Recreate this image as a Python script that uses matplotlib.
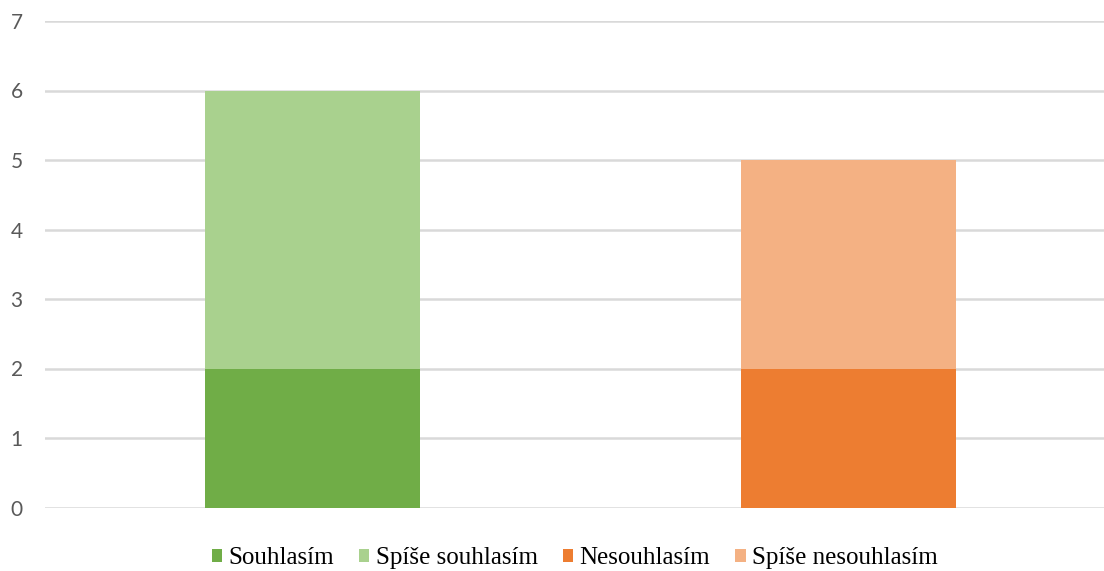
import matplotlib
matplotlib.use("Agg")
import matplotlib.pyplot as plt
from matplotlib.patches import Patch

# Survey answers, two stacked columns
positions = [0, 1]
series_names = ["Souhlasím", "Spíše souhlasím", "Nesouhlasím", "Spíše nesouhlasím"]
souhlasim = [2, 0]
spise_souhlasim = [4, 0]
nesouhlasim = [0, 2]
spise_nesouhlasim = [0, 3]
y_ticks = [0, 1, 2, 3, 4, 5, 6, 7]

colors = ["#70AD47", "#A9D18E", "#ED7D31", "#F4B183"]

W, H = 1104, 571
fig = plt.figure(figsize=(W / 100, H / 100), dpi=100)
ax = fig.add_axes([45 / W, 63.5 / H, (W - 45) / W, (550 - 63.5) / H])

bar_w = 0.401
ax.bar([positions[0]], [souhlasim[0]], width=bar_w, color=colors[0], zorder=3)
ax.bar([positions[0]], [spise_souhlasim[0]], width=bar_w, bottom=[souhlasim[0]],
       color=colors[1], zorder=3)
ax.bar([positions[1]], [nesouhlasim[1]], width=bar_w, color=colors[2], zorder=3)
ax.bar([positions[1]], [spise_nesouhlasim[1]], width=bar_w, bottom=[nesouhlasim[1]],
       color=colors[3], zorder=3)

ax.set_xlim(-0.499, 1.4767)
ax.set_ylim(0, 7)
ax.set_yticks(y_ticks)
ax.set_yticklabels([str(t) for t in y_ticks], fontfamily="Lato", fontsize=15,
                   color="#595959")
ax.tick_params(axis="y", length=0, pad=16)
ax.set_xticks([])
for s in ax.spines.values():
    s.set_visible(False)
ax.yaxis.grid(True, color="#D9D9D9", linewidth=1.8, zorder=0)
ax.set_axisbelow(True)

serif = ["Liberation Serif", "DejaVu Serif"]
handles = [Patch(facecolor=c, edgecolor="none") for c in colors]
leg = fig.legend(handles, series_names, loc="center", ncol=4,
                 bbox_to_anchor=(574.5 / W, 1 - 558 / H), frameon=False,
                 prop={"family": serif, "size": 18},
                 handlelength=0.42, handleheight=0.42, handletextpad=0.25,
                 columnspacing=1.0, borderaxespad=0, borderpad=0)
for t in leg.get_texts():
    t.set_fontfamily(serif)

fig.savefig("out.png", dpi=100)
